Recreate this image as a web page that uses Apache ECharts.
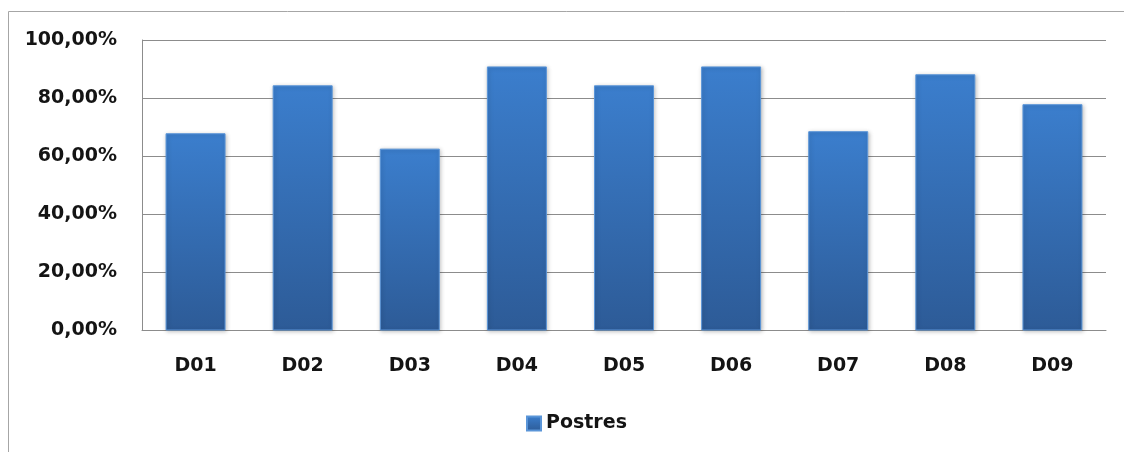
<!DOCTYPE html>
<html>
<head>
<meta charset="utf-8">
<script src="https://cdn.jsdelivr.net/npm/echarts@6/dist/echarts.min.js"></script>
<style>
  html, body { margin: 0; padding: 0; background: #ffffff; }
  #chart { width: 1124px; height: 452px; }
</style>
</head>
<body>
<div id="chart"></div>
<script>
// Share of "Postres" per group, in percent
const categories = ['D01', 'D02', 'D03', 'D04', 'D05', 'D06', 'D07', 'D08', 'D09'];
const postres = [67.9, 84.4, 62.6, 90.9, 84.4, 90.9, 68.6, 88.2, 77.9];
const seriesName = 'Postres';

const FONT = '"DejaVu Sans", sans-serif';
const TEXT = '#141414';
const chart = echarts.init(document.getElementById('chart'), null, { renderer: 'canvas' });

const barFill = new echarts.graphic.LinearGradient(0, 0, 0, 1, [
  { offset: 0, color: '#3b7ecd' },
  { offset: 1, color: '#2d5b97' }
]);

chart.setOption({
  animation: false,
  backgroundColor: '#ffffff',
  graphic: [{
    type: 'rect',
    shape: { x: 8.5, y: 11.5, width: 1200, height: 600 },
    style: { fill: 'none', stroke: '#a6a6a6', lineWidth: 1 },
    silent: true,
    z: -1
  }],
  grid: { left: 142, right: 18, top: 40, bottom: 121.5 },
  legend: {
    data: [seriesName],
    left: 526,
    top: 414,
    padding: 0,
    itemWidth: 14,
    itemHeight: 14,
    itemGap: 7,
    icon: 'rect',
    textStyle: { fontFamily: FONT, fontSize: 19, fontWeight: 'bold', color: TEXT }
  },
  xAxis: {
    type: 'category',
    data: categories,
    axisLine: { show: true, lineStyle: { color: '#8c8c8c', width: 1 } },
    axisTick: { show: false },
    axisLabel: { margin: 26, fontFamily: FONT, fontSize: 19, fontWeight: 'bold', color: TEXT }
  },
  yAxis: {
    type: 'value',
    min: 0,
    max: 100,
    interval: 20,
    axisLine: { show: true, lineStyle: { color: '#8c8c8c', width: 1 } },
    axisTick: { show: false },
    splitLine: { show: true, lineStyle: { color: '#8c8c8c', width: 1 } },
    axisLabel: {
      margin: 25,
      fontFamily: FONT,
      fontSize: 19,
      fontWeight: 'bold',
      color: TEXT,
      formatter: v => v.toFixed(2).replace('.', ',') + '%'
    }
  },
  series: [{
    name: seriesName,
    type: 'bar',
    data: postres,
    barCategoryGap: '44%',
    itemStyle: {
      color: barFill,
      borderColor: '#5a95d8',
      borderWidth: 1,
      shadowColor: 'rgba(0,0,0,0.25)',
      shadowBlur: 4,
      shadowOffsetX: 1,
      shadowOffsetY: 1
    }
  }]
});
</script>
</body>
</html>
